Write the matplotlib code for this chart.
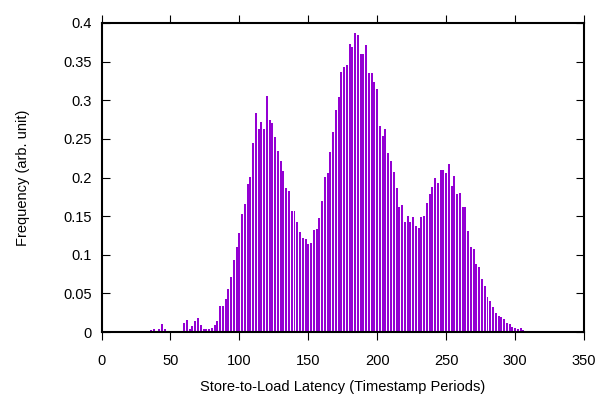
import numpy as np
import matplotlib
matplotlib.use('Agg')
import matplotlib.pyplot as plt

# latency bins (timestamp periods), one bar every 2 periods
latency = np.arange(36, 308, 2)
freq = [0.002, 0.004, 0.0, 0.004, 0.011, 0.004, 0.0, 0.0, 0.0, 0.0,
        0.0, 0.0, 0.012, 0.015, 0.004, 0.008, 0.014, 0.018, 0.009, 0.004,
        0.004, 0.004, 0.005, 0.009, 0.014, 0.034, 0.034, 0.043, 0.056, 0.071,
        0.093, 0.110, 0.128, 0.153, 0.166, 0.192, 0.201, 0.245, 0.284, 0.263,
        0.272, 0.263, 0.305, 0.275, 0.271, 0.253, 0.234, 0.222, 0.209, 0.187,
        0.182, 0.157, 0.156, 0.143, 0.129, 0.122, 0.120, 0.114, 0.115, 0.132,
        0.133, 0.148, 0.170, 0.201, 0.206, 0.233, 0.259, 0.287, 0.304, 0.337,
        0.343, 0.346, 0.373, 0.369, 0.387, 0.384, 0.360, 0.360, 0.372, 0.335,
        0.335, 0.324, 0.315, 0.267, 0.254, 0.263, 0.232, 0.221, 0.207, 0.186,
        0.162, 0.164, 0.143, 0.150, 0.142, 0.149, 0.137, 0.135, 0.149, 0.150,
        0.167, 0.179, 0.188, 0.199, 0.193, 0.210, 0.210, 0.206, 0.218, 0.189,
        0.202, 0.179, 0.180, 0.162, 0.162, 0.131, 0.110, 0.107, 0.088, 0.084,
        0.068, 0.059, 0.045, 0.040, 0.032, 0.025, 0.021, 0.019, 0.017, 0.012,
        0.010, 0.006, 0.005, 0.004, 0.005, 0.003]

xticks = [0, 50, 100, 150, 200, 250, 300, 350]
yticks = [0, 0.05, 0.1, 0.15, 0.2, 0.25, 0.3, 0.35, 0.4]
ytick_labels = ['0', '0.05', '0.1', '0.15', '0.2', '0.25', '0.3', '0.35', '0.4']

plt.rcParams['font.family'] = ['Liberation Sans', 'DejaVu Sans']
plt.rcParams['font.size'] = 10.5

fig = plt.figure(figsize=(6.03, 4.04), dpi=100)
ax = fig.add_axes([101.5 / 603, 1 - 332 / 404, (584 - 101.5) / 603, (332 - 23) / 404])

ax.bar(latency, freq, width=1.45, color='#9400d3', linewidth=0)

ax.set_xlim(0, 350)
ax.set_ylim(0, 0.4)
ax.set_xticks(xticks)
ax.set_yticks(yticks)
ax.set_yticklabels(ytick_labels)

for s in ax.spines.values():
    s.set_linewidth(1.5)
ax.tick_params(axis='x', direction='out', length=5.5, width=0.8, top=True, pad=10)
ax.tick_params(axis='y', direction='in', length=6, width=0.8, right=True, pad=7)

ax.set_xlabel('Store-to-Load Latency (Timestamp Periods)', labelpad=9)
ax.set_ylabel('Frequency (arb. unit)', labelpad=24)

fig.savefig('out.png', dpi=100)
